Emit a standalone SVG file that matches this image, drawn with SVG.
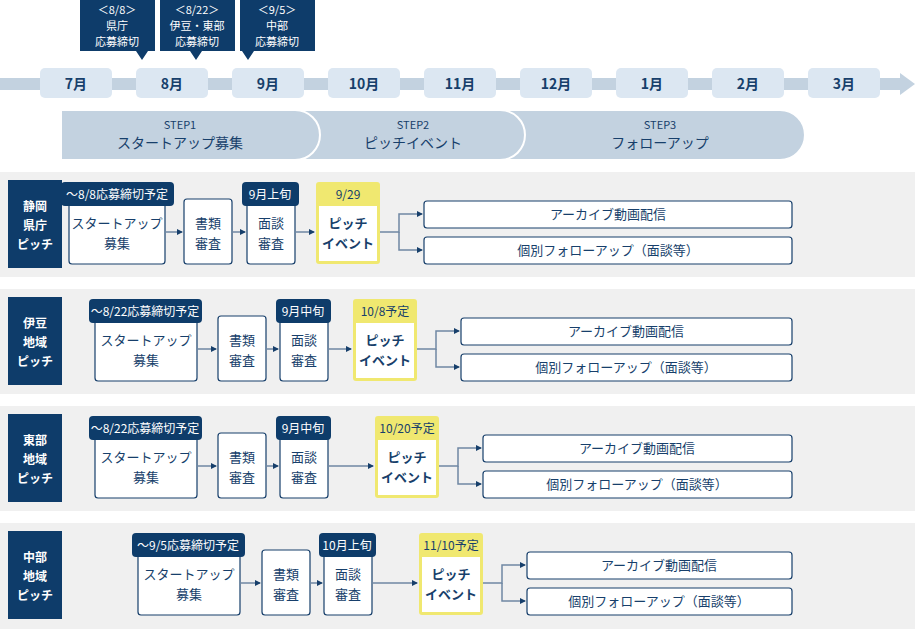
<svg xmlns="http://www.w3.org/2000/svg" width="915" height="629" viewBox="0 0 915 629">
<style>
text{font-family:"Noto Sans CJK JP","Noto Sans",sans-serif;fill:#173f6b;text-anchor:middle}
.nv{fill:#0e3c6a}
.w{fill:#fff}
.wt{fill:#fff;font-size:12px}
.ct{fill:#fff;font-size:11px}
.mo{fill:#dce7f2}
.bx{fill:#fff;stroke:#173f6b;stroke-width:1.2}
.yl{fill:#f0e870}
.t13{font-size:13px}
.t14{font-size:14px;font-weight:bold}
.c{fill:none;stroke:#6f87a3;stroke-width:1.5}
.bg{fill:#f0f0f0}
</style>
<defs>
<marker id="a" viewBox="0 0 6 6" refX="5" refY="3" markerWidth="6" markerHeight="6" orient="auto" markerUnits="userSpaceOnUse"><path d="M0,0L6,3L0,6z" fill="#173f6b"/></marker>
</defs>
<g id="timeline">
<rect x="0" y="78" width="900" height="12" fill="#c3d2e0"/>
<path d="M900,73L915,84L900,95z" fill="#c3d2e0"/>
<rect class="mo" x="40" y="68" width="72" height="30" rx="5"/><text x="76" y="89" class="t14">7月</text>
<rect class="mo" x="136" y="68" width="72" height="30" rx="5"/><text x="172" y="89" class="t14">8月</text>
<rect class="mo" x="232" y="68" width="72" height="30" rx="5"/><text x="268" y="89" class="t14">9月</text>
<rect class="mo" x="328" y="68" width="72" height="30" rx="5"/><text x="364" y="89" class="t14">10月</text>
<rect class="mo" x="424" y="68" width="72" height="30" rx="5"/><text x="460" y="89" class="t14">11月</text>
<rect class="mo" x="520" y="68" width="72" height="30" rx="5"/><text x="556" y="89" class="t14">12月</text>
<rect class="mo" x="616" y="68" width="72" height="30" rx="5"/><text x="652" y="89" class="t14">1月</text>
<rect class="mo" x="712" y="68" width="72" height="30" rx="5"/><text x="748" y="89" class="t14">2月</text>
<rect class="mo" x="808" y="68" width="72" height="30" rx="5"/><text x="844" y="89" class="t14">3月</text>
</g>
<g id="deadlines">
<path class="nv" d="M80,0H155V51H148L142,60L136,51H80z"/>
<text class="ct" x="117" y="14">＜8/8＞</text><text class="ct" x="117" y="30">県庁</text><text class="ct" x="117" y="46">応募締切</text>
<path class="nv" d="M160,0H235V51H202L196,60L190,51H160z"/>
<text class="ct" x="197" y="14">＜8/22＞</text><text class="ct" x="197" y="30">伊豆・東部</text><text class="ct" x="197" y="46">応募締切</text>
<path class="nv" d="M240,0H315V51H254L248,60L242,51H240z"/>
<text class="ct" x="277" y="14">＜9/5＞</text><text class="ct" x="277" y="30">中部</text><text class="ct" x="277" y="46">応募締切</text>
</g>
<g id="steps">
<path d="M490,110H780A25,25 0 0 1 780,160H490z" fill="#c3d2e0" stroke="#fff" stroke-width="2"/>
<path d="M290,110H500A25,25 0 0 1 500,160H290z" fill="#c3d2e0" stroke="#fff" stroke-width="2"/>
<path d="M61,110H295A25,25 0 0 1 295,160H61z" fill="#c3d2e0" stroke="#fff" stroke-width="2"/>
<text x="180" y="129" font-size="11">STEP1</text><text x="180" y="148" font-size="14">スタートアップ募集</text>
<text x="413" y="129" font-size="11">STEP2</text><text x="413" y="148" font-size="14">ピッチイベント</text>
<text x="660" y="129" font-size="11">STEP3</text><text x="660" y="148" font-size="14">フォローアップ</text>
</g>
<g id="row1">
<rect class="bg" x="0" y="172" width="915" height="105"/>
<rect class="nv" x="8" y="180" width="54" height="88"/>
<text class="wt" x="35" y="211" font-size="14" font-weight="bold">静岡</text><text class="wt" x="35" y="230" font-size="14" font-weight="bold">県庁</text><text class="wt" x="35" y="249" font-size="14" font-weight="bold">ピッチ</text>
<rect class="bx" x="69" y="199" width="96" height="65" rx="3"/><rect class="nv" x="61" y="182" width="113" height="24" rx="4"/><text class="wt" x="117" y="199">〜8/8応募締切予定</text>
<text class="t13" x="117" y="228">スタートアップ</text><text class="t13" x="117" y="248">募集</text>
<rect class="bx" x="184" y="199" width="48" height="65" rx="3"/><text class="t13" x="208" y="228">書類</text><text class="t13" x="208" y="248">審査</text>
<rect class="bx" x="247" y="199" width="48" height="65" rx="3"/><rect class="nv" x="242" y="182" width="57" height="24" rx="4"/><text class="wt" x="270" y="199">9月上旬</text>
<text class="t13" x="271" y="228">面談</text><text class="t13" x="271" y="248">審査</text>
<rect class="yl" x="316" y="182" width="64" height="82" rx="3"/><rect class="w" x="319" y="206" width="58" height="55"/><text x="348" y="199" font-size="12">9/29</text>
<text class="t13" x="348" y="228" font-weight="bold">ピッチ</text><text class="t13" x="348" y="248" font-weight="bold">イベント</text>
<rect class="bx" x="424" y="201" width="368" height="27" rx="3"/><text class="t13" x="608" y="219">アーカイブ動画配信</text>
<rect class="bx" x="424" y="237" width="368" height="27" rx="3"/><text class="t13" x="608" y="255">個別フォローアップ（面談等）</text>
</g>
<g id="row2">
<rect class="bg" x="0" y="289" width="915" height="105"/>
<rect class="nv" x="8" y="297" width="54" height="88"/>
<text class="wt" x="35" y="328" font-size="14" font-weight="bold">伊豆</text><text class="wt" x="35" y="347" font-size="14" font-weight="bold">地域</text><text class="wt" x="35" y="366" font-size="14" font-weight="bold">ピッチ</text>
<rect class="bx" x="95" y="316" width="102" height="65" rx="3"/><rect class="nv" x="89" y="299" width="113" height="24" rx="4"/><text class="wt" x="145" y="316">〜8/22応募締切予定</text>
<text class="t13" x="146" y="345">スタートアップ</text><text class="t13" x="146" y="365">募集</text>
<rect class="bx" x="218" y="316" width="48" height="65" rx="3"/><text class="t13" x="242" y="345">書類</text><text class="t13" x="242" y="365">審査</text>
<rect class="bx" x="280" y="316" width="48" height="65" rx="3"/><rect class="nv" x="276" y="299" width="55" height="24" rx="4"/><text class="wt" x="303" y="316">9月中旬</text>
<text class="t13" x="304" y="345">面談</text><text class="t13" x="304" y="365">審査</text>
<rect class="yl" x="353" y="299" width="64" height="82" rx="3"/><rect class="w" x="356" y="323" width="58" height="55"/><text x="385" y="316" font-size="12">10/8予定</text>
<text class="t13" x="385" y="345" font-weight="bold">ピッチ</text><text class="t13" x="385" y="365" font-weight="bold">イベント</text>
<rect class="bx" x="461" y="318" width="331" height="27" rx="3"/><text class="t13" x="626" y="336">アーカイブ動画配信</text>
<rect class="bx" x="461" y="354" width="331" height="27" rx="3"/><text class="t13" x="626" y="372">個別フォローアップ（面談等）</text>
</g>
<g id="row3">
<rect class="bg" x="0" y="406" width="915" height="105"/>
<rect class="nv" x="8" y="414" width="54" height="88"/>
<text class="wt" x="35" y="445" font-size="14" font-weight="bold">東部</text><text class="wt" x="35" y="464" font-size="14" font-weight="bold">地域</text><text class="wt" x="35" y="483" font-size="14" font-weight="bold">ピッチ</text>
<rect class="bx" x="95" y="433" width="102" height="65" rx="3"/><rect class="nv" x="89" y="416" width="113" height="24" rx="4"/><text class="wt" x="145" y="433">〜8/22応募締切予定</text>
<text class="t13" x="146" y="462">スタートアップ</text><text class="t13" x="146" y="482">募集</text>
<rect class="bx" x="218" y="433" width="48" height="65" rx="3"/><text class="t13" x="242" y="462">書類</text><text class="t13" x="242" y="482">審査</text>
<rect class="bx" x="280" y="433" width="48" height="65" rx="3"/><rect class="nv" x="276" y="416" width="55" height="24" rx="4"/><text class="wt" x="303" y="433">9月中旬</text>
<text class="t13" x="304" y="462">面談</text><text class="t13" x="304" y="482">審査</text>
<rect class="yl" x="375" y="416" width="64" height="82" rx="3"/><rect class="w" x="378" y="440" width="58" height="55"/><text x="407" y="433" font-size="12">10/20予定</text>
<text class="t13" x="407" y="462" font-weight="bold">ピッチ</text><text class="t13" x="407" y="482" font-weight="bold">イベント</text>
<rect class="bx" x="483" y="435" width="309" height="27" rx="3"/><text class="t13" x="637" y="453">アーカイブ動画配信</text>
<rect class="bx" x="483" y="471" width="309" height="27" rx="3"/><text class="t13" x="637" y="489">個別フォローアップ（面談等）</text>
</g>
<g id="row4">
<rect class="bg" x="0" y="523" width="915" height="106"/>
<rect class="nv" x="8" y="531" width="54" height="88"/>
<text class="wt" x="35" y="562" font-size="14" font-weight="bold">中部</text><text class="wt" x="35" y="581" font-size="14" font-weight="bold">地域</text><text class="wt" x="35" y="600" font-size="14" font-weight="bold">ピッチ</text>
<rect class="bx" x="138" y="550" width="102" height="65" rx="3"/><rect class="nv" x="132" y="533" width="113" height="24" rx="4"/><text class="wt" x="188" y="550">〜9/5応募締切予定</text>
<text class="t13" x="189" y="579">スタートアップ</text><text class="t13" x="189" y="599">募集</text>
<rect class="bx" x="262" y="550" width="48" height="65" rx="3"/><text class="t13" x="286" y="579">書類</text><text class="t13" x="286" y="599">審査</text>
<rect class="bx" x="324" y="550" width="48" height="65" rx="3"/><rect class="nv" x="319" y="533" width="57" height="24" rx="4"/><text class="wt" x="347" y="550">10月上旬</text>
<text class="t13" x="348" y="579">面談</text><text class="t13" x="348" y="599">審査</text>
<rect class="yl" x="419" y="533" width="64" height="82" rx="3"/><rect class="w" x="422" y="557" width="58" height="55"/><text x="451" y="550" font-size="12">11/10予定</text>
<text class="t13" x="451" y="579" font-weight="bold">ピッチ</text><text class="t13" x="451" y="599" font-weight="bold">イベント</text>
<rect class="bx" x="527" y="552" width="265" height="27" rx="3"/><text class="t13" x="659" y="570">アーカイブ動画配信</text>
<rect class="bx" x="527" y="588" width="265" height="27" rx="3"/><text class="t13" x="659" y="606">個別フォローアップ（面談等）</text>
</g>
<g id="connectors">
<path class="c" d="M165,232H182" marker-end="url(#a)"/><path class="c" d="M232,232H245" marker-end="url(#a)"/><path class="c" d="M295,232H314" marker-end="url(#a)"/>
<path class="c" d="M380,232H399V214H422" marker-end="url(#a)"/><path class="c" d="M399,232V250H422" marker-end="url(#a)"/>
<path class="c" d="M197,349H216" marker-end="url(#a)"/><path class="c" d="M266,349H278" marker-end="url(#a)"/><path class="c" d="M328,349H351" marker-end="url(#a)"/>
<path class="c" d="M417,349H436V331H459" marker-end="url(#a)"/><path class="c" d="M436,349V367H459" marker-end="url(#a)"/>
<path class="c" d="M197,466H216" marker-end="url(#a)"/><path class="c" d="M266,466H278" marker-end="url(#a)"/><path class="c" d="M328,466H373" marker-end="url(#a)"/>
<path class="c" d="M439,466H458V448H481" marker-end="url(#a)"/><path class="c" d="M458,466V484H481" marker-end="url(#a)"/>
<path class="c" d="M240,583H260" marker-end="url(#a)"/><path class="c" d="M310,583H322" marker-end="url(#a)"/><path class="c" d="M372,583H417" marker-end="url(#a)"/>
<path class="c" d="M483,583H502V565H525" marker-end="url(#a)"/><path class="c" d="M502,583V601H525" marker-end="url(#a)"/>
</g>
</svg>
